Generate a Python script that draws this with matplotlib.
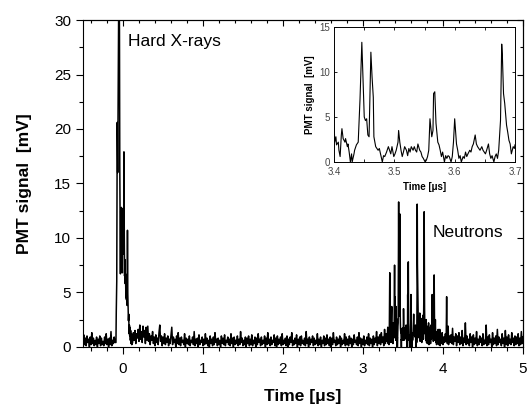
import numpy as np
import matplotlib.pyplot as plt
from matplotlib.ticker import MultipleLocator

plt.rcParams['font.family'] = ['Liberation Sans', 'DejaVu Sans']

# PMT trace (time in us, signal in mV)
# baseline before the trigger, sampled every 0.01 us from -0.50 to -0.10
pre_mv = [0.3, 1.1, 0.2, 0.8, 0.1, 1.0, 0.4, 0.7, 0.0, 0.9,
          0.2, 1.3, 0.3, 0.8, 0.1, 0.6, 0.2, 0.9, 0.0, 0.7,
          0.3, 1.0, 0.1, 0.8, 0.2, 0.5, 0.1, 0.9, 0.3, 1.2,
          0.2, 0.7, 0.0, 0.8, 0.2, 1.4, 0.1, 0.6, 0.3, 0.9,
          0.4]

# hard X-ray pulse
xray_t = [-0.088, -0.084, -0.078, -0.072, -0.066, -0.060, -0.054, -0.048, -0.044,
          -0.040, -0.036, -0.032, -0.028, -0.024, -0.020, -0.016, -0.012, -0.008,
          -0.004, 0.000, 0.004, 0.008, 0.012, 0.016, 0.020, 0.024, 0.028, 0.032,
          0.036, 0.040, 0.044, 0.048, 0.052, 0.056, 0.060, 0.064, 0.068, 0.072,
          0.076, 0.080, 0.084, 0.088, 0.092, 0.096, 0.100, 0.105, 0.110]
xray_mv = [0.4, 3.2, 6.0, 20.6, 16.0, 24.0, 31.0, 33.0, 29.0,
           16.5, 12.2, 6.7, 12.5, 8.0, 12.8, 7.2, 11.9, 6.8,
           12.6, 8.5, 12.7, 9.0, 17.9, 10.4, 6.5, 8.0, 5.8, 6.7,
           4.5, 5.5, 4.3, 6.0, 3.8, 10.7, 4.9, 3.5, 2.4, 3.0,
           1.2, 2.0, 1.0, 1.8, 0.6, 1.5, 0.3, 1.2, 0.2]

# baseline after the pulse, every 0.01 us from 0.12 to 3.31
tail_mv = [0.4, 1.3, 0.6, 1.5, 0.3, 1.2, 0.8, 1.6, 0.5, 2.0,
           0.7, 1.4, 0.4, 1.9, 0.9, 1.5, 0.3, 1.8, 0.6, 1.9,
           0.5, 1.2, 0.2, 1.0, 0.6, 1.4, 0.3, 0.9, 0.1, 1.1,
           0.4, 0.8, 0.2, 1.3, 2.0, 0.5, 1.0, 0.1, 0.9, 0.3,
           1.2, 0.2, 0.8, 0.4, 1.0, 0.1, 0.7, 0.3, 1.1, 1.8,
           0.2, 0.9, 0.4, 0.7, 0.0, 1.0, 0.3, 1.3, 0.2, 0.8,
           0.1, 0.9, 0.4, 0.6, 0.2, 1.2, 0.0, 0.8, 0.3, 0.7,
           0.2, 1.0, 0.1, 0.6, 0.4, 0.9, 0.2, 1.4, 0.1, 0.7,
           0.3, 0.8, 0.0, 1.1, 0.2, 0.6, 0.4, 0.9, 0.1, 0.7,
           0.2, 1.2, 0.3, 0.8, 0.1, 0.6, 0.0, 1.0, 0.3, 0.7,
           0.1, 0.9, 0.2, 1.3, 0.4, 0.7, 0.1, 0.8, 0.2, 0.6,
           0.0, 1.0, 0.3, 0.8, 0.2, 1.1, 0.1, 0.6, 0.4, 0.9,
           0.2, 0.7, 0.1, 1.2, 0.3, 0.8, 0.0, 0.9, 0.2, 0.6,
           0.3, 1.0, 0.1, 0.7, 0.2, 1.4, 0.4, 0.8, 0.1, 0.6,
           0.2, 0.9, 0.0, 0.8, 0.3, 1.0, 0.1, 0.7, 0.2, 1.1,
           0.1, 0.6, 0.3, 0.9, 0.0, 0.8, 0.2, 1.2, 0.4, 0.7,
           0.1, 0.9, 0.2, 0.6, 0.3, 1.0, 0.0, 0.8, 0.2, 1.3,
           0.3, 0.7, 0.1, 0.9, 0.2, 0.6, 0.4, 1.1, 0.1, 0.8,
           0.0, 1.0, 0.2, 0.7, 0.3, 0.9, 0.1, 1.2, 0.2, 0.6,
           0.3, 0.8, 0.1, 1.0, 0.0, 0.7, 0.2, 0.9, 0.4, 1.3,
           0.1, 0.6, 0.2, 0.8, 0.3, 1.1, 0.0, 0.7, 0.2, 0.9,
           0.1, 1.0, 0.3, 0.6, 0.2, 0.8, 0.1, 1.4, 0.3, 0.7,
           0.0, 0.9, 0.2, 0.7, 0.4, 1.0, 0.1, 0.8, 0.2, 0.6,
           0.3, 1.2, 0.1, 0.7, 0.2, 0.9, 0.0, 0.6, 0.3, 1.0,
           0.1, 0.8, 0.2, 1.1, 0.3, 0.7, 0.1, 0.9, 0.0, 0.8,
           0.2, 1.3, 0.4, 0.6, 0.1, 0.9, 0.2, 0.7, 0.3, 1.0,
           0.0, 0.8, 0.2, 0.6, 0.3, 1.2, 0.1, 0.9, 0.2, 0.7,
           0.1, 1.0, 0.3, 0.8, 0.0, 0.7, 0.2, 1.1, 0.4, 0.6,
           0.2, 0.9, 0.1, 1.3, 0.3, 0.8, 0.0, 0.7, 0.2, 1.0,
           0.1, 0.6, 0.3, 0.9, 0.2, 1.2, 0.1, 0.8, 0.3, 0.7,
           0.0, 1.0, 0.2, 0.8, 0.4, 1.4, 0.1, 0.9, 0.3, 1.1,
           0.2, 1.3, 0.4, 0.9, 0.1, 1.6, 0.3, 1.2, 0.5, 1.8]

# start of the neutron burst
burst1_t = [3.315, 3.320, 3.325, 3.330, 3.335, 3.340, 3.345, 3.350, 3.355,
            3.360, 3.365, 3.370, 3.375, 3.380, 3.385, 3.390, 3.395, 3.398]
burst1_mv = [0.3, 1.5, 0.2, 2.0, 6.8, 0.5, 1.8, 0.4, 2.4,
             3.7, 0.6, 1.9, 0.3, 2.2, 0.8, 1.6, 7.5, 2.0]

# zoomed window 3.4 - 3.7 us (inset)
zoom_t = [3.400, 3.401, 3.403, 3.404, 3.407, 3.408, 3.410, 3.412, 3.413, 3.415,
          3.418, 3.419, 3.422, 3.423, 3.425, 3.427, 3.429, 3.430, 3.433, 3.434,
          3.437, 3.440, 3.443, 3.446, 3.450, 3.452, 3.454, 3.456, 3.458, 3.461,
          3.463, 3.465, 3.466, 3.469, 3.471, 3.473, 3.475, 3.477, 3.480, 3.482,
          3.484, 3.487, 3.490, 3.492, 3.494, 3.496, 3.499, 3.501, 3.503, 3.506,
          3.507, 3.509, 3.511, 3.513, 3.515, 3.517, 3.520, 3.522, 3.524, 3.526,
          3.528, 3.531, 3.533, 3.535, 3.537, 3.539, 3.542, 3.544, 3.546, 3.548,
          3.551, 3.553, 3.555, 3.557, 3.559, 3.562, 3.564, 3.565, 3.567, 3.569,
          3.572, 3.574, 3.576, 3.578, 3.580, 3.583, 3.585, 3.587, 3.589, 3.591,
          3.594, 3.596, 3.598, 3.600, 3.603, 3.605, 3.607, 3.609, 3.611, 3.614,
          3.616, 3.618, 3.620, 3.622, 3.625, 3.627, 3.629, 3.631, 3.634, 3.636,
          3.638, 3.640, 3.642, 3.645, 3.647, 3.649, 3.651, 3.653, 3.656, 3.658,
          3.660, 3.662, 3.665, 3.667, 3.669, 3.671, 3.673, 3.676, 3.678, 3.679,
          3.681, 3.683, 3.686, 3.688, 3.690, 3.692, 3.694, 3.697, 3.699, 3.700]
zoom_mv = [4.6, 2.2, 2.8, 1.9, 2.2, 1.3, 0.6, 3.0, 3.7, 2.6,
           2.2, 2.6, 1.7, 2.0, 1.1, 0.0, 0.9, 0.0, 0.9, 1.3,
           1.9, 2.2, 7.0, 13.3, 5.0, 4.6, 4.8, 3.0, 2.8, 12.2,
           9.4, 7.2, 2.8, 1.7, 1.5, 1.3, 1.5, 0.9, 0.0, 0.7,
           0.6, 1.1, 1.7, 1.3, 0.9, 1.7, 0.6, 0.9, 1.3, 2.2,
           3.5, 2.2, 1.3, 0.6, 1.1, 1.7, 1.3, 0.7, 1.5, 1.1,
           1.7, 1.3, 1.7, 1.3, 1.1, 2.0, 1.3, 1.1, 0.6, 0.4,
           0.0, 0.2, 0.6, 1.3, 4.8, 2.8, 3.5, 7.6, 7.8, 4.3,
           2.2, 1.9, 1.3, 0.6, 1.1, 0.0, 0.7, 0.4, 0.7, 0.6,
           0.0, 0.6, 2.2, 4.8, 2.0, 1.3, 0.4, 0.7, 0.0, 0.6,
           0.4, 1.1, 0.6, 0.9, 1.3, 1.1, 1.7, 2.0, 3.0, 2.0,
           1.7, 1.5, 1.3, 1.7, 1.3, 1.1, 0.9, 1.3, 2.0, 0.9,
           0.4, 0.7, 0.0, 0.6, 0.9, 0.4, 1.3, 4.6, 13.1, 12.0,
           7.6, 6.5, 4.1, 3.3, 2.4, 2.0, 0.9, 1.7, 1.5, 1.9]

# rest of the neutron burst
burst2_t = [3.705, 3.710, 3.715, 3.720, 3.725, 3.730, 3.735, 3.740, 3.745, 3.750,
            3.755, 3.760, 3.765, 3.770, 3.775, 3.780, 3.785, 3.790, 3.795, 3.800,
            3.805, 3.810, 3.815, 3.820, 3.825, 3.830, 3.835, 3.840, 3.845, 3.850,
            3.855, 3.860, 3.865, 3.870, 3.875, 3.880, 3.885, 3.890, 3.895, 3.900,
            3.905, 3.910, 3.915, 3.920, 3.930, 3.935, 3.940, 3.945, 3.950, 3.955,
            3.960, 3.965, 3.970, 3.980, 3.990, 4.000, 4.010, 4.020, 4.030, 4.040,
            4.046, 4.050, 4.055, 4.065, 4.070, 4.080, 4.090, 4.100]
burst2_mv = [0.8, 3.1, 0.5, 2.0, 0.9, 2.6, 0.4, 1.8, 1.0, 2.9,
             0.7, 4.0, 12.4, 3.5, 1.2, 2.0, 0.6, 2.5, 0.4, 1.9,
             0.3, 1.5, 0.5, 2.2, 0.2, 1.4, 0.6, 1.8, 0.3, 2.0,
             0.7, 1.6, 4.8, 1.2, 2.5, 0.5, 3.0, 6.6, 1.5, 0.6,
             2.5, 0.4, 1.4, 0.2, 1.2, 0.5, 1.6, 0.2, 1.1, 0.4,
             1.6, 0.1, 1.0, 0.3, 1.3, 0.2, 0.9, 0.4, 1.2, 0.5,
             4.6, 0.8, 0.3, 1.9, 0.2, 1.0, 0.4, 1.1]

# late baseline, every 0.01 us from 4.11 to 5.00
late_mv = [0.3, 1.7, 0.2, 0.9, 0.5, 1.2, 0.1, 1.0, 0.4, 1.3,
           0.2, 0.9, 0.3, 1.5, 0.1, 0.8, 0.4, 2.2, 0.2, 1.0,
           0.3, 0.7, 0.1, 1.2, 0.4, 0.9, 0.0, 1.1, 0.2, 0.8,
           0.3, 1.4, 0.1, 0.7, 0.2, 1.0, 0.4, 0.8, 0.1, 1.2,
           0.2, 0.6, 0.3, 2.0, 0.1, 0.9, 0.2, 1.1, 0.4, 0.7,
           0.0, 1.3, 0.2, 0.8, 0.3, 1.0, 0.1, 1.6, 0.2, 0.9,
           0.4, 0.7, 0.1, 1.2, 0.3, 0.8, 0.0, 1.5, 0.2, 0.9,
           0.1, 1.1, 0.3, 0.7, 0.2, 1.3, 0.4, 0.8, 0.1, 1.0,
           0.2, 0.9, 0.3, 1.2, 0.1, 0.8, 0.2, 1.4, 0.3, 0.9]

pre_t = np.linspace(-0.50, -0.10, len(pre_mv))
tail_t = np.linspace(0.12, 3.31, len(tail_mv))
late_t = np.linspace(4.11, 5.00, len(late_mv))

t = np.concatenate([pre_t, xray_t, tail_t, burst1_t, zoom_t, burst2_t, late_t])
mv = np.concatenate([pre_mv, xray_mv, tail_mv, burst1_mv, zoom_mv, burst2_mv, late_mv])

fig = plt.figure(figsize=(5.32, 4.09), dpi=100)
ax = fig.add_axes([0.156, 0.152, 0.827, 0.799])
ax.plot(t, mv, color='black', lw=1.1)
ax.set_xlim(-0.5, 5)
ax.set_ylim(0, 30)
ax.xaxis.set_major_locator(MultipleLocator(1))
ax.xaxis.set_minor_locator(MultipleLocator(0.2))
ax.yaxis.set_major_locator(MultipleLocator(5))
ax.yaxis.set_minor_locator(MultipleLocator(2.5))
ax.tick_params(which='both', direction='out', labelsize=11, width=0.8)
ax.tick_params(which='major', length=5)
ax.tick_params(which='minor', length=3)
ax.tick_params(axis='x', pad=6)
sec_x = ax.secondary_xaxis('top')
sec_x.xaxis.set_major_locator(MultipleLocator(1))
sec_x.xaxis.set_minor_locator(MultipleLocator(0.2))
sec_x.tick_params(which='both', direction='in', labeltop=False, width=0.8)
sec_x.tick_params(which='major', length=4)
sec_x.tick_params(which='minor', length=2.5)
sec_y = ax.secondary_yaxis('right')
sec_y.yaxis.set_major_locator(MultipleLocator(5))
sec_y.yaxis.set_minor_locator(MultipleLocator(2.5))
sec_y.tick_params(which='both', direction='in', labelright=False, width=0.8)
sec_y.tick_params(which='major', length=4)
sec_y.tick_params(which='minor', length=2.5)
ax.set_xlabel('Time [μs]', fontsize=12.5, fontweight='bold', labelpad=9)
ax.set_ylabel('PMT signal  [mV]', fontsize=12.5, fontweight='bold', labelpad=16)
ax.text(0.06, 28, 'Hard X-rays', fontsize=12.5, va='center', ha='left')
ax.text(3.875, 10.5, 'Neutrons', fontsize=12.5, va='center', ha='left')

ins = fig.add_axes([0.628, 0.604, 0.340, 0.330])
ins.plot(zoom_t, zoom_mv, color='black', lw=0.8)
ins.set_xlim(3.4, 3.7)
ins.set_ylim(0, 15)
ins.xaxis.set_major_locator(MultipleLocator(0.1))
ins.xaxis.set_minor_locator(MultipleLocator(0.05))
ins.yaxis.set_major_locator(MultipleLocator(5))
ins.tick_params(which='both', labelsize=7, labelcolor='#444444', length=2,
                width=0.6, top=True, right=True, direction='in')
ins.tick_params(axis='x', pad=3.5)
ins.tick_params(axis='y', pad=3)
ins.set_xlabel('Time [μs]', fontsize=7, fontweight='bold', labelpad=4)
ins.set_ylabel('PMT signal  [mV]', fontsize=7, fontweight='bold', labelpad=3)
for s in ins.spines.values():
    s.set_linewidth(0.7)

fig.savefig('out.png', dpi=100)
